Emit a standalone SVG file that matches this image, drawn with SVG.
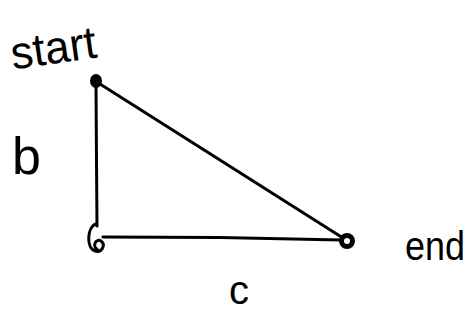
<svg xmlns="http://www.w3.org/2000/svg" width="471" height="324" viewBox="0 0 471 324">
<style>
.ln{fill:none;stroke:#000;stroke-width:3;stroke-linecap:round;stroke-linejoin:round}
.lbl{font-family:"Liberation Sans",Arial,sans-serif;fill:#000}
</style>
<rect width="471" height="324" fill="#fff"/>
<g id="connectors">
<path class="ln" d="M96,86 L96.5,160 L97,226"/>
<path class="ln" d="M100,84 L343,238"/>
<path class="ln" d="M103,237 L220,237.5 L341,240"/>
</g>
<g id="node-start">
<ellipse cx="96" cy="81" rx="6" ry="7" fill="#000"/>
<text class="lbl" x="10" y="64" font-size="46" textLength="86" lengthAdjust="spacingAndGlyphs" transform="rotate(-8 50 45)">start</text>
</g>
<g id="node-corner">
<path class="ln" d="M96,224 C87,227 86,248 95,251 C102,253 106,245 101,241 C96,238 92,246 97,249"/>
</g>
<g id="node-end">
<circle cx="347" cy="241" r="5.5" fill="#fff" stroke="#000" stroke-width="5"/>
<text class="lbl" x="405" y="260" font-size="40" textLength="60" lengthAdjust="spacingAndGlyphs">end</text>
</g>
<g id="label-b">
<text class="lbl" x="12" y="174" font-size="52">b</text>
</g>
<g id="label-c">
<text class="lbl" x="229" y="304" font-size="40">c</text>
</g>
</svg>
